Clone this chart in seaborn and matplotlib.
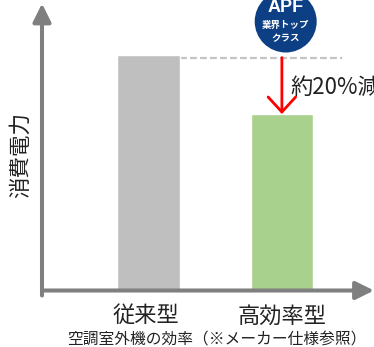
import matplotlib
matplotlib.use("Agg")
import matplotlib.pyplot as plt
from matplotlib.patches import Ellipse
from matplotlib.transforms import ScaledTranslation
import pandas as pd
import seaborn as sns

categories = ["従来型", "高効率型"]
power = [100, 75]
bar_colors = ["#bfbfbf", "#a9d18e"]
y_label = "消費電力"
x_label = "空調室外機の効率（※メーカー仕様参照）"
reduction_label = "約20%減"
badge_lines = ["APF", "業界トップ", "クラス"]

sns.set_theme(style="white")
plt.rcParams["font.family"] = ["Noto Sans CJK JP", "DejaVu Sans"]

W, H = 374, 347
fig = plt.figure(figsize=(W / 100, H / 100), dpi=100, facecolor="white")
x0, x1, ybase, ytop = 42, 374, 290.5, 3.5
ax = fig.add_axes([x0 / W, (H - ybase) / H, (x1 - x0) / W, (ybase - ytop) / H])

def fx(px):
    return px / W

def fy(py):
    return (H - py) / H

df = pd.DataFrame({"cat": categories, "power": power})
sns.barplot(data=df, x="cat", y="power", hue="cat", palette=bar_colors,
            order=categories, hue_order=categories, legend=False,
            width=0.468, saturation=1, ax=ax, zorder=3)
ax.set_xlim(-0.797, 1.69)
ax.set_ylim(0, 122.0)
ax.set_yticks([])
ax.tick_params(axis="x", length=0, pad=10, labelsize=16, colors="#222222")
ax.set_xlabel("")
ax.set_ylabel("")
for s in ax.spines.values():
    s.set_visible(False)
ax.patch.set_alpha(0)
first = ax.get_xticklabels()[0]
first.set_transform(first.get_transform() + ScaledTranslation(-2 / 100, 0, fig.dpi_scale_trans))

axis_col = "#7f7f7f"
arrow = dict(arrowstyle="-|>,head_length=0.85,head_width=0.42", color=axis_col,
             lw=2.9, shrinkA=0, shrinkB=0, mutation_scale=13)
ax.annotate("", xy=(0, 1), xytext=(0, -5 / 287), xycoords="axes fraction",
            textcoords="axes fraction", arrowprops=arrow, annotation_clip=False)
ax.annotate("", xy=(1, 0), xytext=(0, 0), xycoords="axes fraction",
            textcoords="axes fraction", arrowprops=arrow, annotation_clip=False)

# dashed reference level from the first bar
ax.plot([0.236, 1.453], [power[0] - 1, power[0] - 1], color="#c4c4c4", lw=1.6,
        dashes=(3.1, 1.4), zorder=2, clip_on=False)

# reduction arrow
ax.annotate("", xy=(1, power[1]), xytext=(1, power[0] - 1),
            arrowprops=dict(arrowstyle="->,head_length=0.6,head_width=0.55",
                            color="#ff0000", lw=2.0, shrinkA=0, shrinkB=0,
                            mutation_scale=18), zorder=6)

fig.text(fx(290.5), fy(87), reduction_label, fontsize=16, va="center", ha="left",
         color="#222222")
fig.text(fx(20.5), fy(154.5), y_label, fontsize=15.5, rotation=90, va="center", ha="center",
         color="#222222")
fig.text(fx(216.5), fy(339.5), x_label, fontsize=11.3, va="center", ha="center",
         color="#222222")

badge = Ellipse((fx(285.7), fy(21.5)), 62 / W, 62 / H, transform=fig.transFigure,
                facecolor="#0d3f85", edgecolor="none", zorder=8)
fig.add_artist(badge)
fig.text(fx(285.7), fy(8), badge_lines[0], color="white", fontsize=13, fontweight="bold",
         family="Liberation Sans", ha="center", va="center", zorder=9)
for line, py in zip(badge_lines[1:], [25, 38]):
    fig.text(fx(285.7), fy(py), line, color="white", fontsize=6.8, fontweight="bold",
             ha="center", va="center", zorder=9)

fig.savefig("out.png", dpi=100)
